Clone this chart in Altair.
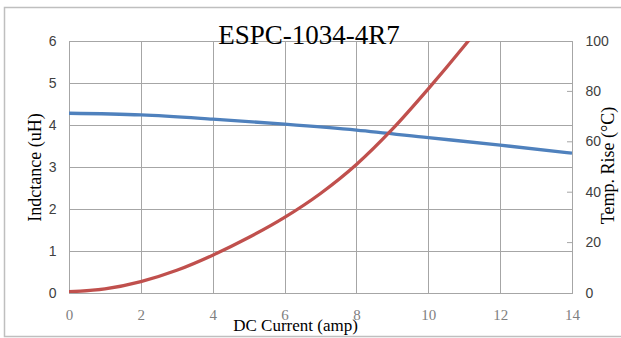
import altair as alt
import pandas as pd

# ---- data ----
current_ind = [0, 2, 4, 6, 8, 10, 12, 14]
inductance = [4.28, 4.24, 4.14, 4.02, 3.88, 3.70, 3.52, 3.33]

current_temp = [0, 1, 2, 3, 4, 5, 6, 7, 8, 9, 10, 11, 12]
temp_rise = [0.5, 1.6, 4.5, 9, 15, 22, 30, 39.5, 51, 65, 81, 98, 116]

right_ticks = [20, 40, 60, 80]

title_text = "ESPC-1034-4R7"

df_ind = pd.DataFrame({"I": current_ind, "L": inductance})
df_temp = pd.DataFrame({"I": current_temp, "T": temp_rise})
df_ticks = pd.DataFrame({"T": right_ticks})
df_one = pd.DataFrame({"t": [title_text]})

GRID = "#a6a6a6"
SERIF = "Liberation Serif"
SANS = "Liberation Sans"

x_enc = alt.X(
    "I:Q",
    scale=alt.Scale(domain=[0, 14], nice=False),
    axis=alt.Axis(
        values=[0, 2, 4, 6, 8, 10, 12, 14],
        grid=True, gridColor=GRID, ticks=False,
        domainColor=GRID, labelFlush=False,
        labelFont=SERIF, labelFontSize=15, labelColor="#7f7f7f",
        labelBaseline="alphabetic", labelPadding=26,
        title="DC Current (amp)", titleFont=SERIF, titleFontSize=17,
        titleFontWeight="normal", titleColor="#000000",
        titleX=226, titleY=37, titleAlign="center", titleBaseline="alphabetic",
    ),
)

blue = alt.Chart(df_ind).mark_line(
    color="#4F81BD", strokeWidth=3.3, interpolate="monotone", clip=True
).encode(
    x=x_enc,
    y=alt.Y(
        "L:Q",
        scale=alt.Scale(domain=[0, 6], nice=False),
        axis=alt.Axis(
            orient="left",
            values=[0, 1, 2, 3, 4, 5, 6],
            grid=True, gridColor=GRID, ticks=False,
            domainColor=GRID,
            labelFont=SANS, labelFontSize=14, labelColor="#404040",
            labelPadding=13,
            title="Indctance (uH)", titleFont=SERIF, titleFontSize=18,
            titleFontWeight="normal", titleColor="#000000",
            titleAngle=270, titleX=-34, titleY=126,
            titleAlign="center", titleBaseline="middle",
        ),
    ),
)

red = alt.Chart(df_temp).mark_line(
    color="#C0504D", strokeWidth=3.3, interpolate="monotone", clip=True
).encode(
    x=alt.X("I:Q", scale=alt.Scale(domain=[0, 14], nice=False)),
    y=alt.Y(
        "T:Q",
        scale=alt.Scale(domain=[0, 100], nice=False),
        axis=alt.Axis(
            orient="right",
            values=[0, 20, 40, 60, 80, 100],
            grid=False, ticks=False,
            domainColor=GRID,
            labelFont=SANS, labelFontSize=14, labelColor="#404040",
            labelPadding=13,
            title="Temp. Rise (°C)", titleFont=SERIF, titleFontSize=18,
            titleFontWeight="normal", titleColor="#000000",
            titleAngle=270, titleX=36, titleY=124,
            titleAlign="center", titleBaseline="middle",
        ),
    ),
)

tick_marks = alt.Chart(df_ticks).mark_rule(color=GRID, strokeWidth=1).encode(
    x=alt.value(498),
    x2=alt.value(503),
    y=alt.Y("T:Q", scale=alt.Scale(domain=[0, 100], nice=False)),
)

temp_layer = alt.layer(red, tick_marks)

frame = alt.Chart(df_one).mark_rect(
    filled=False, stroke="#bfbfbf", strokeWidth=1.5
).encode(
    x=alt.value(-64.5), x2=alt.value(570),
    y=alt.value(-33.5), y2=alt.value(295.5),
)

title = alt.Chart(df_one).mark_text(
    font=SERIF, fontSize=27, color="#000000",
    align="center", baseline="alphabetic",
).encode(
    text="t:N",
    x=alt.value(240),
    y=alt.value(3),
)

chart = alt.layer(frame, blue, temp_layer, title).resolve_scale(
    y="independent"
).properties(
    width=503, height=252,
    autosize=alt.AutoSizeParams(type="none"),
    padding={"left": 69, "top": 41, "right": 49, "bottom": 45},
    background="#ffffff",
).configure_view(
    stroke=GRID, strokeWidth=1
)

chart.save("out.html", embed_options={"renderer": "svg", "actions": False})
